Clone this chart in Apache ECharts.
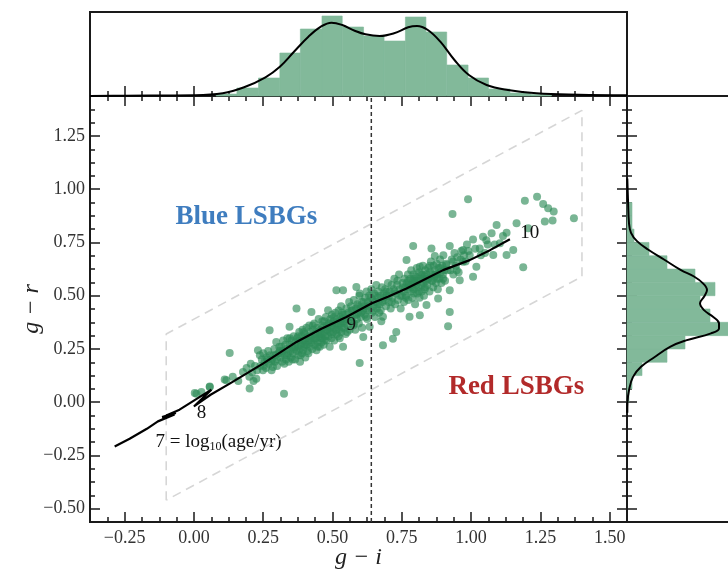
<!DOCTYPE html>
<html><head><meta charset="utf-8">
<script src="https://cdn.jsdelivr.net/npm/echarts@6/dist/echarts.min.js"></script>
<style>html,body{margin:0;padding:0;background:#fff}#c{width:728px;height:574px}</style>
</head><body><div id="c"></div>
<script>
// ---------- data ----------
const xTickValues = [-0.25, 0, 0.25, 0.5, 0.75, 1.0, 1.25, 1.5];
const yTickValues = [-0.5, -0.25, 0, 0.25, 0.5, 0.75, 1.0, 1.25];
const minorStep = 0.0625;

// scatter: [g-i, g-r]
const galaxies = [
[0.003,0.043],[0.009,0.040],[0.027,0.048],[0.057,0.071],[0.057,0.074],[0.111,0.106],[0.117,0.103],[0.129,0.231],[0.14,0.12],
[0.16,0.10],[0.177,0.142],[0.19,0.16],[0.20,0.12],[0.201,0.064],[0.21,0.14],[0.22,0.17],[0.225,0.11],[0.231,0.244],
[0.24,0.17],[0.245,0.20],[0.249,0.15],[0.25,0.23],[0.255,0.19],[0.26,0.16],[0.262,0.21],[0.268,0.24],[0.27,0.18],[0.273,0.338],[0.275,0.22],[0.28,0.15],[0.282,0.20],[0.285,0.165],[0.29,0.25],[0.292,0.19],[0.295,0.22],[0.297,0.283],[0.30,0.17],[0.305,0.23],[0.308,0.26],
[0.312,0.21],[0.315,0.26],[0.318,0.19],[0.32,0.24],[0.322,0.29],[0.325,0.040],[0.327,0.22],[0.33,0.27],[0.332,0.20],[0.335,0.25],[0.337,0.30],[0.34,0.23],[0.342,0.19],[0.345,0.354],[0.345,0.27],[0.348,0.24],[0.35,0.21],[0.352,0.29],[0.355,0.26],[0.357,0.23],[0.36,0.31],[0.362,0.25],[0.365,0.20],[0.367,0.28],[0.37,0.24],[0.37,0.44],[0.372,0.30],[0.375,0.26],[0.377,0.22],[0.38,0.29],[0.38,0.33],[0.382,0.25],[0.383,0.19],
[0.386,0.27],[0.388,0.31],[0.39,0.23],[0.392,0.34],[0.394,0.244],[0.395,0.29],[0.398,0.26],[0.40,0.32],[0.402,0.21],[0.404,0.30],[0.406,0.35],[0.408,0.27],[0.41,0.24],[0.412,0.31],[0.414,0.29],[0.416,0.36],[0.418,0.26],[0.42,0.33],[0.422,0.28],[0.424,0.424],[0.425,0.31],[0.427,0.25],[0.43,0.34],[0.432,0.29],[0.434,0.37],[0.436,0.27],[0.438,0.32],[0.44,0.30],[0.442,0.244],[0.444,0.35],[0.446,0.28],[0.448,0.33],[0.45,0.39],[0.452,0.31],[0.454,0.26],[0.456,0.34],[0.458,0.30],[0.46,0.36],[0.46,0.28],[0.461,0.32],
[0.464,0.30],[0.466,0.35],[0.468,0.27],[0.47,0.38],[0.472,0.33],[0.474,0.31],[0.476,0.40],[0.478,0.29],[0.48,0.36],[0.482,0.34],[0.484,0.432],[0.485,0.31],[0.487,0.37],[0.49,0.260],[0.49,0.33],[0.492,0.39],[0.494,0.35],[0.496,0.30],[0.498,0.41],[0.50,0.36],[0.502,0.33],[0.504,0.38],[0.506,0.29],[0.508,0.35],[0.51,0.42],[0.512,0.37],[0.514,0.526],[0.515,0.32],[0.517,0.39],[0.52,0.36],[0.522,0.43],[0.524,0.34],[0.526,0.30],[0.528,0.40],[0.53,0.37],[0.531,0.45],[0.532,0.33],[0.533,0.39],[0.534,0.35],[0.535,0.42],
[0.538,0.526],[0.538,0.260],[0.54,0.38],[0.542,0.35],[0.545,0.41],[0.547,0.32],[0.55,0.44],[0.552,0.39],[0.555,0.36],[0.557,0.42],[0.56,0.47],[0.562,0.34],[0.565,0.40],[0.567,0.45],[0.57,0.38],[0.572,0.43],[0.575,0.36],[0.577,0.48],[0.58,0.41],[0.582,0.34],[0.585,0.44],[0.586,0.541],[0.588,0.39],[0.59,0.46],[0.592,0.42],[0.595,0.37],[0.597,0.50],[0.598,0.510],[0.598,0.184],[0.60,0.44],[0.602,0.40],[0.605,0.47],[0.607,0.35],[0.61,0.43],[0.611,0.306],
[0.614,0.45],[0.616,0.41],[0.618,0.49],[0.62,0.44],[0.623,0.52],[0.625,0.39],[0.628,0.47],[0.63,0.43],[0.632,0.50],[0.634,0.354],[0.636,0.46],[0.64,0.53],[0.642,0.42],[0.645,0.48],[0.648,0.45],[0.65,0.51],[0.653,0.40],[0.655,0.47],[0.658,0.55],[0.66,0.44],[0.663,0.49],[0.665,0.52],[0.668,0.42],[0.67,0.46],[0.673,0.50],[0.676,0.38],[0.678,0.54],[0.68,0.47],[0.682,0.401],[0.682,0.267],[0.685,0.51],
[0.688,0.48],[0.69,0.53],[0.693,0.45],[0.696,0.50],[0.70,0.56],[0.703,0.47],[0.706,0.52],[0.71,0.44],[0.713,0.55],[0.716,0.49],[0.718,0.298],[0.72,0.53],[0.723,0.58],[0.726,0.46],[0.73,0.330],[0.73,0.51],[0.733,0.55],[0.736,0.48],[0.74,0.60],[0.743,0.53],[0.746,0.44],[0.75,0.50],[0.753,0.56],[0.756,0.52],[0.758,0.47],[0.76,0.58],[0.762,0.54],
[0.765,0.50],[0.767,0.667],[0.768,0.56],[0.77,0.53],[0.772,0.60],[0.774,0.48],[0.776,0.55],[0.778,0.401],[0.78,0.58],[0.782,0.52],[0.784,0.62],[0.786,0.54],[0.788,0.49],[0.79,0.57],[0.791,0.733],[0.792,0.60],[0.794,0.53],[0.796,0.56],[0.798,0.46],[0.80,0.59],[0.802,0.55],[0.804,0.63],[0.806,0.51],[0.808,0.57],[0.81,0.54],[0.812,0.61],[0.814,0.49],[0.815,0.636],[0.815,0.408],[0.817,0.58],[0.82,0.55],[0.822,0.52],[0.824,0.60],[0.826,0.64],[0.828,0.56],[0.83,0.50],[0.832,0.59],[0.834,0.54],[0.835,0.62],[0.836,0.57],
[0.839,0.456],[0.84,0.60],[0.842,0.55],[0.845,0.63],[0.847,0.58],[0.85,0.52],[0.852,0.61],[0.855,0.66],[0.857,0.722],[0.858,0.57],[0.86,0.60],[0.863,0.54],[0.865,0.64],[0.868,0.59],[0.869,0.686],[0.87,0.62],[0.873,0.56],[0.876,0.65],[0.878,0.60],[0.88,0.53],[0.881,0.487],[0.883,0.63],[0.886,0.58],[0.888,0.67],[0.89,0.61],[0.893,0.56],[0.896,0.64],[0.898,0.60],[0.90,0.69],[0.903,0.62],[0.906,0.57],[0.91,0.65],
[0.911,0.644],[0.917,0.357],[0.923,0.733],[0.923,0.526],[0.923,0.424],[0.926,0.62],[0.93,0.67],[0.933,0.884],[0.936,0.60],[0.94,0.70],[0.945,0.64],[0.95,0.68],[0.955,0.61],[0.959,0.573],[0.965,0.71],[0.971,0.714],[0.971,0.659],[0.98,0.66],[0.985,0.74],
[0.989,0.953],[0.995,0.69],[1.007,0.764],[1.007,0.589],[1.019,0.636],[1.031,0.722],[1.043,0.777],[1.05,0.70],[1.06,0.74],
[1.074,0.793],[1.080,0.691],[1.092,0.832],[1.104,0.746],[1.128,0.796],[1.128,0.691],
[1.152,0.714],[1.164,0.840],[1.188,0.633],[1.194,0.946],[1.206,0.817],[1.238,0.965],[1.260,0.931],[1.266,0.848],[1.278,0.911],[1.294,0.853],[1.298,0.895],[1.371,0.864],
[0.205,0.18],[0.215,0.10],[0.228,0.15],[0.238,0.22],[0.252,0.17],[0.265,0.20],[0.278,0.19],[0.288,0.22],[0.30,0.20],[0.31,0.24],
[0.316,0.23],[0.326,0.18],[0.336,0.22],[0.346,0.30],[0.356,0.20],[0.366,0.26],[0.376,0.31],[0.385,0.22],[0.393,0.28],[0.397,0.33],
[0.403,0.27],[0.413,0.23],[0.421,0.30],[0.429,0.36],[0.437,0.30],[0.447,0.26],[0.455,0.32],[0.463,0.38],[0.471,0.29],[0.479,0.34],[0.489,0.37],[0.497,0.32],
[0.505,0.40],[0.513,0.34],[0.521,0.31],[0.529,0.38],[0.537,0.41],[0.544,0.37],[0.553,0.33],[0.561,0.39],[0.569,0.43],[0.578,0.37],[0.587,0.41],[0.594,0.45],[0.603,0.42],
[0.612,0.47],[0.621,0.40],[0.629,0.45],[0.638,0.49],[0.647,0.43],[0.656,0.50],[0.664,0.46],[0.674,0.43],[0.684,0.49],[0.694,0.52],
[0.704,0.50],[0.714,0.47],[0.724,0.52],[0.734,0.57],[0.744,0.50],[0.754,0.54],[0.764,0.49],[0.773,0.57],[0.783,0.55],[0.793,0.51],[0.795,0.58],
[0.803,0.57],[0.811,0.52],[0.819,0.60],[0.827,0.58],[0.833,0.53],[0.843,0.58],[0.851,0.64],[0.861,0.57],[0.871,0.60],[0.879,0.58],[0.889,0.63],[0.899,0.58],
[0.915,0.62],[0.935,0.66],[0.948,0.62],[0.962,0.67],[0.975,0.69],[0.99,0.71],
[1.015,0.72],[1.035,0.69],[1.055,0.76],[1.085,0.74],[1.115,0.78]
];

// stellar-population model track [g-i, g-r]
const trackX = [-0.286,-0.232,-0.17,-0.13,-0.07,-0.115,-0.065,-0.10,-0.052,0.063,0.0,0.06,0.129,0.249,0.37,0.46,0.55,0.64,0.70,0.767,0.83,0.899,0.995,1.07,1.14];
const trackY = [-0.208,-0.172,-0.125,-0.09,-0.058,-0.07,-0.05,-0.062,-0.035,0.059,-0.02,0.035,0.087,0.181,0.283,0.345,0.40,0.463,0.495,0.534,0.575,0.62,0.667,0.715,0.765];

// top histogram of g-i: bin edges and bar heights
const giEdges   = [0.080,0.155,0.233,0.310,0.384,0.462,0.535,0.612,0.686,0.763,0.837,0.912,0.989,1.063,1.140,1.215,1.290];
const giHeights = [2,8,18,43,67,80,69,60,55,79,64,31,18,7,3,1.5];
// top KDE
const giKdeX = [-0.375,-0.25,0.0,0.104,0.181,0.258,0.310,0.361,0.413,0.458,0.496,0.535,0.580,0.619,0.670,0.722,0.773,0.805,0.844,0.889,0.940,0.992,1.056,1.133,1.236,1.39,1.5625];
const giKdeY = [0.1,0.3,0.7,2.7,8.7,18.7,29.3,44.3,59.3,69.3,73.3,71,65.3,61.7,60,62.7,68.7,70,66,54.3,36,21,11,6,2.7,1.3,0.7];

// right histogram of g-r
const grEdges  = [0,0.0625,0.125,0.1875,0.25,0.3125,0.375,0.4375,0.5,0.5625,0.625,0.6875,0.75,0.8125,0.875,0.9375];
const grWidths = [2,5,15,40,58,102,83,73,88,68,40,22,7,5,5];
// right KDE
const grKdeY = [-0.05,0.0,0.056,0.119,0.166,0.21,0.26,0.29,0.323,0.346,0.37,0.401,0.432,0.464,0.495,0.527,0.558,0.59,0.62,0.67,0.717,0.756,0.795,0.84,0.95,1.05];
const grKdeW = [0.3,0.5,2,6,14,27,43,59,84,92,92,86,77,73,77,80,76,67,54,37,21,10,4,2,1,0.3];

// ---------- chart ----------
const xMin=-0.375, xMax=1.5625, yMin=-0.5625, yMax=1.4375;
function minorVals(a,b,majors){const r=[];for(let v=a+minorStep;v<b-1e-9;v+=minorStep){const q=Math.round(v*10000)/10000;if(!majors.some(m=>Math.abs(m-q)<1e-6))r.push(q);}return r;}
const xMinor = minorVals(xMin,xMax,xTickValues);
const yMinor = minorVals(yMin,yMax,yTickValues);
const fmt = v => (v<0?'\u2212':'')+Math.abs(v).toFixed(2);
const AX = '#1a1a1a';
const HIST = '#82b99a';
const labelFont = {fontFamily:'Liberation Serif', fontSize:18, color:'#333'};

function tickAxis(extra){
  return Object.assign({type:'value', axisLine:{show:false,onZero:false}, splitLine:{show:false}, axisLabel:{show:false}}, extra);
}
const topHist = giHeights.map((h,i)=>[giEdges[i],giEdges[i+1],h]);
const rightHist = grWidths.map((w,i)=>[grEdges[i],grEdges[i+1],w]);
const spine = {show:true,onZero:false,lineStyle:{color:AX,width:2}};

const option = {
  animation:false,
  backgroundColor:'#fff',
  grid:[
    {left:90, top:96, width:537, height:426, show:true, borderColor:AX, borderWidth:2, backgroundColor:'transparent', outerBoundsMode:'none', containLabel:false},
    {left:90, top:12, width:537, height:84, show:true, borderColor:AX, borderWidth:2, backgroundColor:'transparent', outerBoundsMode:'none', containLabel:false},
    {left:627, top:96, width:101, height:426, show:false, outerBoundsMode:'none', containLabel:false}
  ],
  xAxis:[
    tickAxis({gridIndex:0, position:'bottom', min:xMin, max:xMax, axisLine:spine,
      axisTick:{show:true,inside:true,length:10,lineStyle:{color:AX,width:1.5},customValues:xTickValues},
      axisLabel:Object.assign({show:true,margin:7,customValues:xTickValues,formatter:fmt},labelFont),
      name:'g \u2212 i', nameLocation:'middle', nameGap:24, nameMoveOverlap:false,
      nameTextStyle:{fontFamily:'Liberation Serif',fontStyle:'italic',fontSize:24,color:'#222'}}),
    tickAxis({gridIndex:0, position:'bottom', min:xMin, max:xMax,
      axisTick:{show:true,inside:true,length:5,lineStyle:{color:AX,width:1.5},customValues:xMinor}}),
    tickAxis({gridIndex:1, position:'bottom', min:xMin, max:xMax, axisLine:spine,
      axisTick:{show:true,inside:true,length:10,lineStyle:{color:AX,width:1.5},customValues:xTickValues}}),
    tickAxis({gridIndex:1, position:'bottom', min:xMin, max:xMax,
      axisTick:{show:true,inside:false,length:10,lineStyle:{color:AX,width:1.5},customValues:xTickValues}}),
    tickAxis({gridIndex:1, position:'bottom', min:xMin, max:xMax,
      axisTick:{show:true,inside:true,length:5,lineStyle:{color:AX,width:1.5},customValues:xMinor}}),
    tickAxis({gridIndex:1, position:'bottom', min:xMin, max:xMax,
      axisTick:{show:true,inside:false,length:5,lineStyle:{color:AX,width:1.5},customValues:xMinor}}),
    tickAxis({gridIndex:2, position:'bottom', min:0, max:101, axisLine:spine, axisTick:{show:false}}),
    tickAxis({gridIndex:2, position:'top', min:0, max:101, axisLine:spine, axisTick:{show:false}})
  ],
  yAxis:[
    tickAxis({gridIndex:0, position:'left', min:yMin, max:yMax, axisLine:spine,
      axisTick:{show:true,inside:true,length:10,lineStyle:{color:AX,width:1.5},customValues:yTickValues},
      axisLabel:Object.assign({show:true,margin:5,customValues:yTickValues,formatter:fmt},labelFont),
      name:'g \u2212 r', nameLocation:'middle', nameGap:46, nameRotate:90, nameMoveOverlap:false,
      nameTextStyle:{fontFamily:'Liberation Serif',fontStyle:'italic',fontSize:24,color:'#222'}}),
    tickAxis({gridIndex:0, position:'left', min:yMin, max:yMax,
      axisTick:{show:true,inside:true,length:5,lineStyle:{color:AX,width:1.5},customValues:yMinor}}),
    tickAxis({gridIndex:1, position:'left', min:0, max:84, axisTick:{show:false}}),
    tickAxis({gridIndex:2, position:'left', min:yMin, max:yMax, axisLine:spine,
      axisTick:{show:true,inside:true,length:10,lineStyle:{color:AX,width:1.5},customValues:yTickValues}}),
    tickAxis({gridIndex:2, position:'left', min:yMin, max:yMax,
      axisTick:{show:true,inside:false,length:10,lineStyle:{color:AX,width:1.5},customValues:yTickValues}}),
    tickAxis({gridIndex:2, position:'left', min:yMin, max:yMax,
      axisTick:{show:true,inside:true,length:5,lineStyle:{color:AX,width:1.5},customValues:yMinor}}),
    tickAxis({gridIndex:2, position:'left', min:yMin, max:yMax,
      axisTick:{show:true,inside:false,length:5,lineStyle:{color:AX,width:1.5},customValues:yMinor}})
  ],
  series:[
    // selection parallelogram
    {type:'line', xAxisIndex:0, yAxisIndex:0, silent:true, symbol:'none',
      data:[[-0.1,-0.46],[-0.1,0.32],[1.4,1.37],[1.4,0.59],[-0.1,-0.46]],
      lineStyle:{color:'#d6d6d6', width:1.6, type:[9,6]}},
    {type:'scatter', xAxisIndex:0, yAxisIndex:0, data:galaxies, symbolSize:8,
      itemStyle:{color:'rgba(46,139,87,0.64)', opacity:1}},
    // dividing line
    {type:'line', xAxisIndex:0, yAxisIndex:0, symbol:'none', data:[[0.64,yMin],[0.64,yMax]],
      lineStyle:{color:'#333', width:1.5, type:[4,3]}},
    {type:'line', xAxisIndex:0, yAxisIndex:0, symbol:'none',
      data:trackX.map((x,i)=>[x,trackY[i]]), lineStyle:{color:'#000', width:2.2}},
    // annotations
    {type:'scatter', xAxisIndex:0, yAxisIndex:0, symbolSize:1, itemStyle:{color:'rgba(0,0,0,0)', opacity:1},
      label:{show:true, position:'inside', opacity:1, fontFamily:'Liberation Serif', fontSize:19, color:'#111',
        formatter:p=>p.data.t, rich:{sub:{fontSize:12, fontFamily:'Liberation Serif', color:'#111', verticalAlign:'bottom', padding:[10,0,0,0]}}},
      data:[
        {value:[1.212,0.793], t:'10'},
        {value:[0.568,0.362], t:'9'},
        {value:[0.027,-0.053], t:'8'},
        {value:[0.089,-0.188], t:'7 = log{sub|10}(age/yr)'},
        {value:[0.189,0.871], t:'Blue LSBGs', label:{fontSize:27, fontWeight:'bold', color:'#3f7dbf'}},
        {value:[1.163,0.071], t:'Red LSBGs', label:{fontSize:27, fontWeight:'bold', color:'#b22a2a'}}
      ]},
    // top histogram + KDE
    {type:'custom', xAxisIndex:2, yAxisIndex:2, data:topHist, encode:{x:[0,1],y:2},
      renderItem:(params,api)=>{const a=api.coord([api.value(0),0]);const b=api.coord([api.value(1),api.value(2)]);
        return {type:'rect',shape:{x:a[0],y:b[1],width:b[0]-a[0],height:a[1]-b[1]},style:{fill:HIST,stroke:HIST,lineWidth:0.6}};}},
    {type:'line', xAxisIndex:2, yAxisIndex:2, symbol:'none', smooth:0.4,
      data:giKdeX.map((x,i)=>[x,giKdeY[i]]), lineStyle:{color:'#000', width:2}},
    // right histogram + KDE
    {type:'custom', xAxisIndex:6, yAxisIndex:3, data:rightHist, encode:{x:2,y:[0,1]},
      renderItem:(params,api)=>{const a=api.coord([0,api.value(0)]);const b=api.coord([api.value(2),api.value(1)]);
        return {type:'rect',shape:{x:a[0],y:b[1],width:b[0]-a[0],height:a[1]-b[1]},style:{fill:HIST,stroke:HIST,lineWidth:0.6}};}},
    {type:'line', xAxisIndex:6, yAxisIndex:3, symbol:'none', smooth:0.4,
      data:grKdeY.map((y,i)=>[grKdeW[i],y]), lineStyle:{color:'#000', width:2}}
  ]
};
const chart = echarts.init(document.getElementById('c'), null, {renderer:'canvas'});
chart.setOption(option);
</script>
</body></html>
